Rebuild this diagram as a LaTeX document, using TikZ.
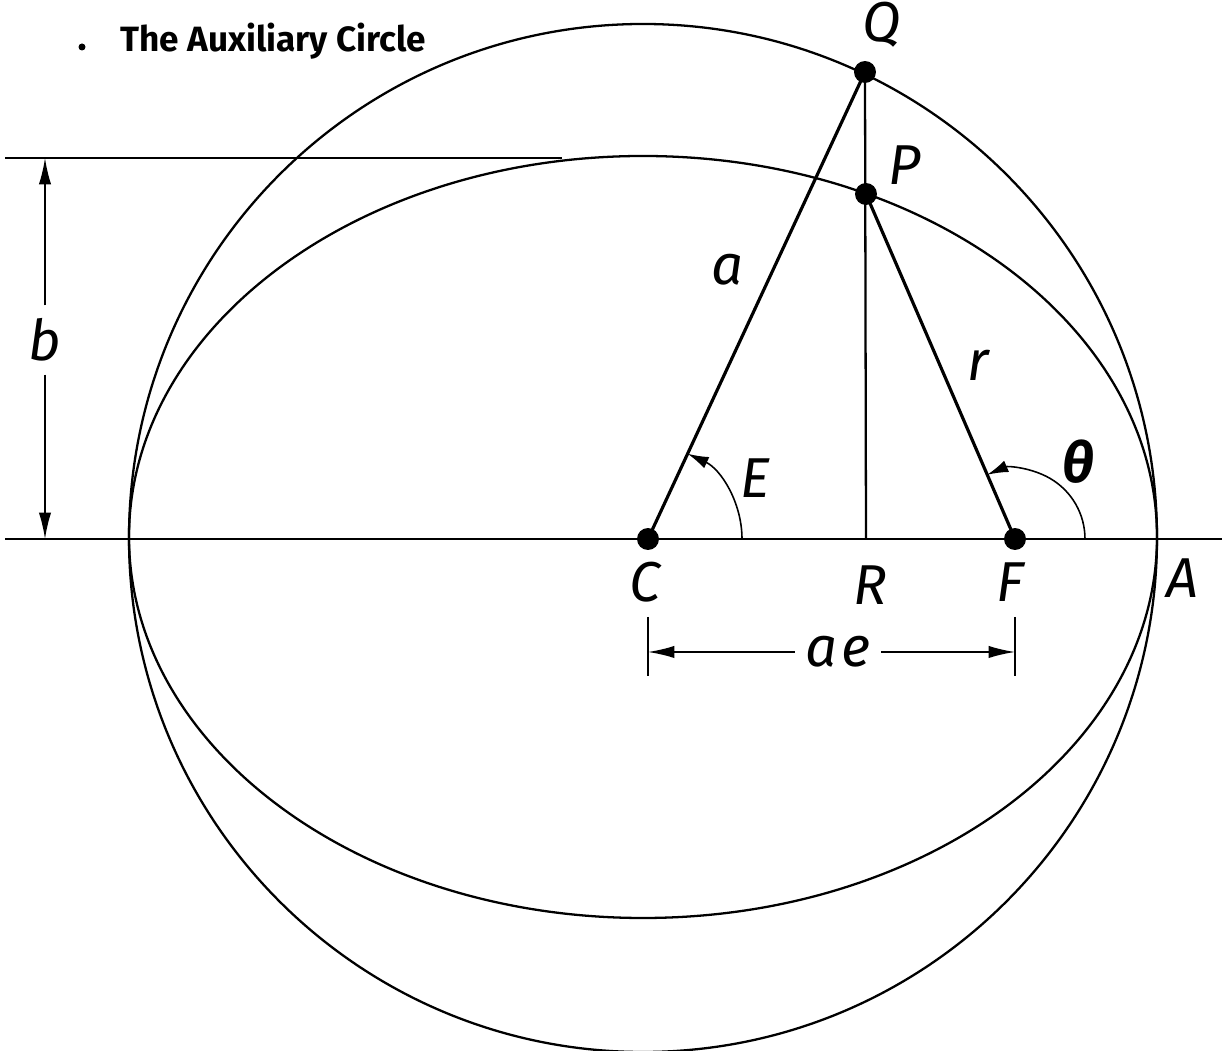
\documentclass[tikz,border=0pt]{standalone}
\usepackage{fontspec}
\usetikzlibrary{arrows.meta}
\newfontfamily\lblfont{Fira Sans}
\newfontfamily\titlefont{Fira Sans}
\tikzset{
  curveline/.style={line width=1.3pt},
  heavyline/.style={line width=1.8pt},
  midline/.style={line width=1.3pt},
  dimline/.style={line width=0.9pt},
  dimarrow/.style={-{Latex[length=15pt,width=7pt]}},
  arcarrow/.style={-{Latex[length=12pt,width=7pt]}},
  lbl/.style={font=\lblfont\itshape\fontsize{32}{32}\selectfont, inner sep=0pt},
  dot/.style={circle, fill=black, inner sep=0pt, minimum size=12.5pt}
}
\begin{document}
\begin{tikzpicture}[x=0.02cm,y=0.02cm]
\useasboundingbox (0,0) rectangle (1225,1051);
% key points
\coordinate (O) at (643,513);
\coordinate (OE) at (643,514);
\coordinate (C) at (648,512);
\coordinate (F) at (1015,512);
\coordinate (R) at (866,512);
\coordinate (Q) at (865,979);
\coordinate (P) at (866,857);
\coordinate (axL) at (5,512);
\coordinate (axR) at (1222,512);
\coordinate (bL) at (5,893);
\coordinate (bR) at (562,893);
\coordinate (bTop) at (45,893);
\coordinate (bBot) at (45,512);
\coordinate (t1a) at (648,434);
\coordinate (t1b) at (648,375);
\coordinate (t2a) at (1015,434);
\coordinate (t2b) at (1015,375);
\coordinate (aeL) at (648,399);
\coordinate (aeR) at (1015,399);
% circle and ellipse
\draw[curveline] (O) circle[radius=514];
\draw[curveline] (OE) ellipse[x radius=514, y radius=381];
% axis and top reference line
\draw[midline] (axL) -- (axR);
\draw[dimline] (bL) -- (bR);
% b dimension
\node[lbl, minimum height=39pt] (blbl) at (45,711) {b};
\draw[dimline, dimarrow] (blbl.north) -- (bTop);
\draw[dimline, dimarrow] (blbl.south) -- (bBot);
% ae dimension
\draw[dimline] (t1a) -- (t1b);
\draw[dimline] (t2a) -- (t2b);
\node[lbl, minimum width=49pt] (aelbl) at (838,399) {a\kern2pt e};
\draw[dimline, dimarrow] (aelbl.west) -- (aeL);
\draw[dimline, dimarrow] (aelbl.east) -- (aeR);
% radii
\draw[heavyline] (C) -- (Q);
\draw[heavyline] (F) -- (P);
\draw[midline] (Q) -- (R);
% angle arcs
\draw[dimline, arcarrow] (C) ++(94,0) arc[start angle=0, end angle=65.1, radius=94];
\draw[dimline, arcarrow] (F) ++(70,0) arc[start angle=0, end angle=113.4, radius=70];
% dots
\node[dot] (Cd) at (C) {};
\node[dot] (Fd) at (F) {};
\node[dot] (Qd) at (Q) {};
\node[dot] (Pd) at (P) {};
% labels
\node[lbl] (Ql) at (882,1026) {Q};
\node[lbl] (Pl) at (905,886) {P};
\node[lbl] (al) at (727,781) {a};
\node[lbl] (rl) at (978,686) {r};
\node[lbl] (El) at (755,573) {E};
\node[lbl, font=\lblfont\itshape\bfseries\fontsize{32}{32}\selectfont] (thl) at (1078,589) {θ};
\node[lbl] (Cl) at (645,469) {C};
\node[lbl] (Rl) at (870,466) {R};
\node[lbl] (Fl) at (1010,469) {F};
\node[lbl] (Al) at (1182,473) {A};
% title
\fill (82,1004) circle[radius=3.5];
\node[anchor=base west, inner sep=0pt, font=\titlefont\bfseries\fontsize{20}{20}\selectfont] (title) at (120,999) {The Auxiliary Circle};
\end{tikzpicture}
\end{document}
